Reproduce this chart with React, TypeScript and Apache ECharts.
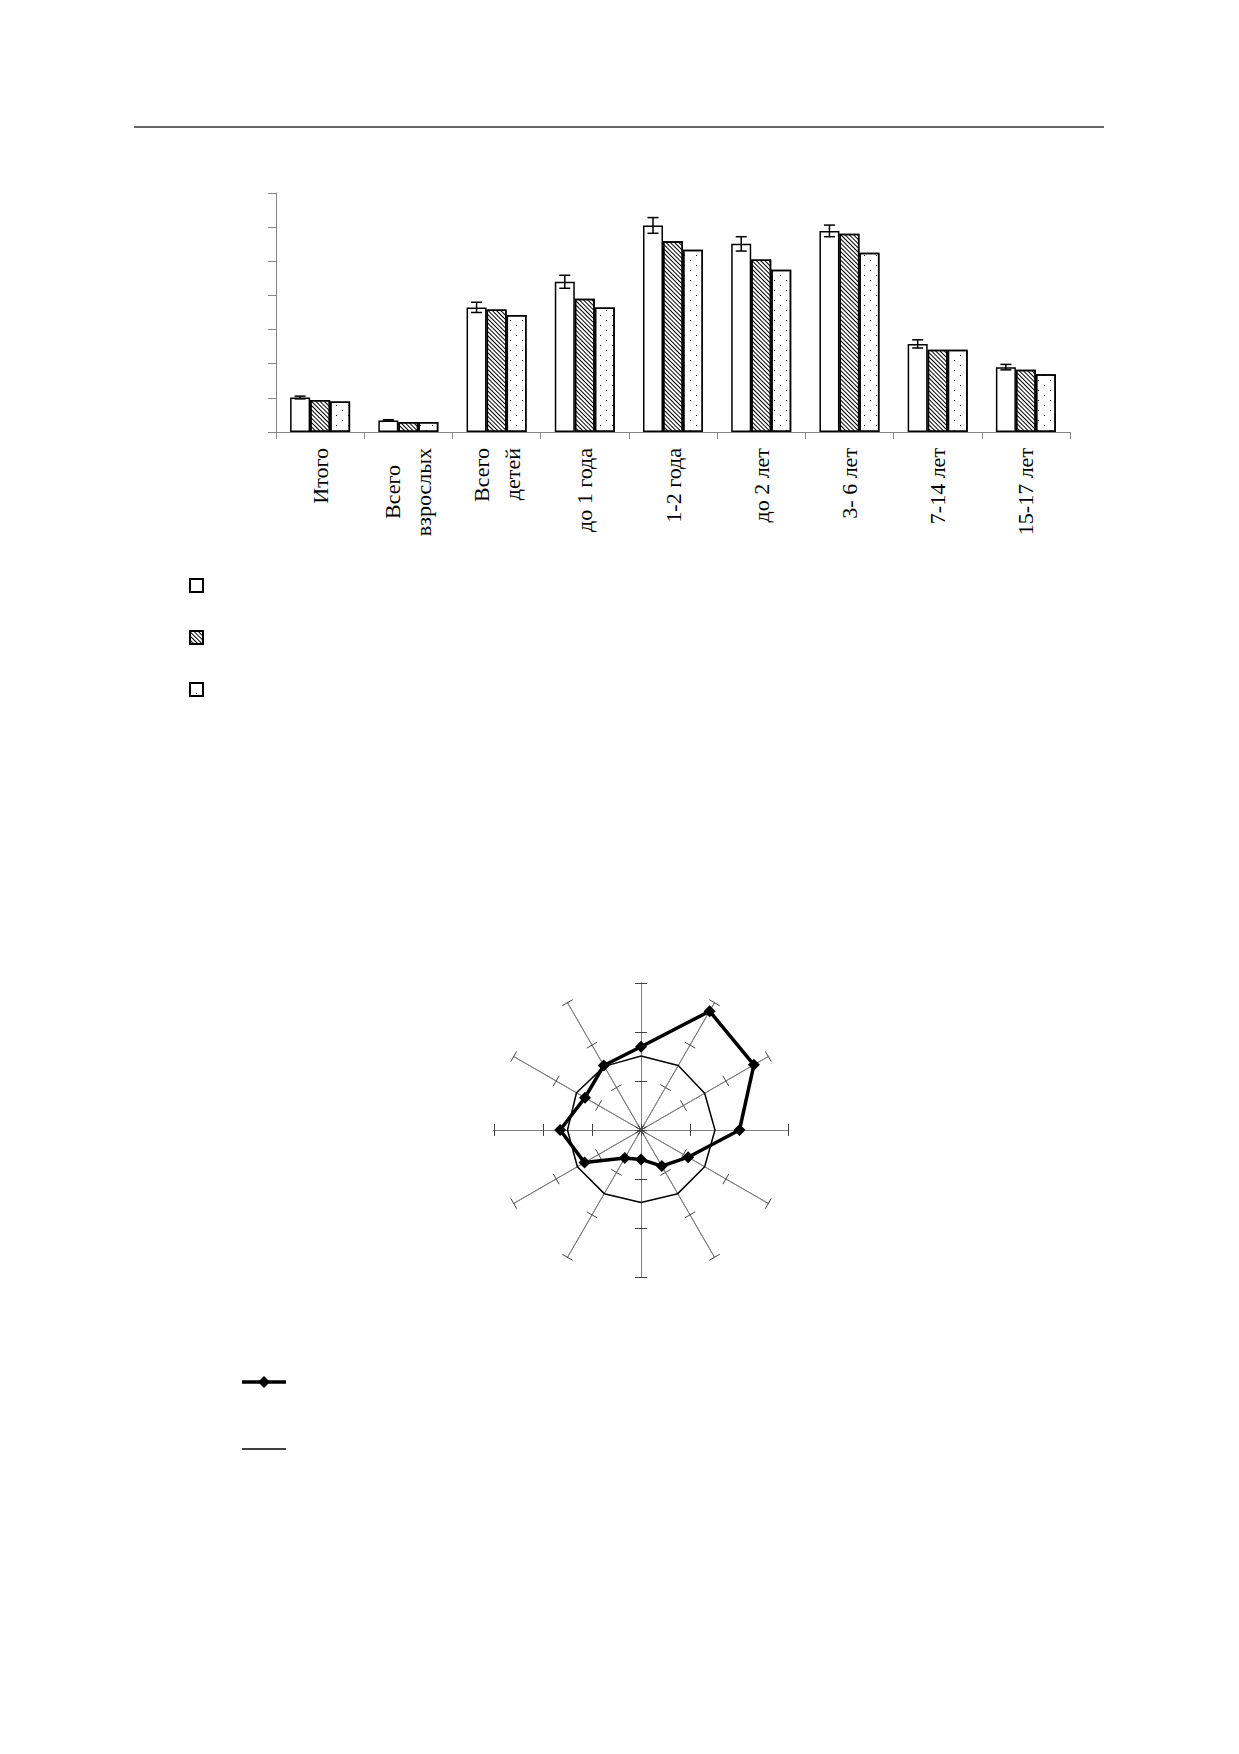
import React, { useEffect, useRef } from "react";
import * as echarts from "echarts";

// ---- Bar chart data ----
const categories = [
  "Итого",
  "Всего\nвзрослых",
  "Всего\nдетей",
  "до 1 года",
  "1-2 года",
  "до 2 лет",
  "3- 6 лет",
  "7-14 лет",
  "15-17 лет",
];
const seriesA = [1.01, 0.34, 3.65, 4.4, 6.05, 5.51, 5.89, 2.58, 1.9];
const seriesAErr = [0.04, 0.02, 0.15, 0.19, 0.23, 0.21, 0.17, 0.12, 0.08];
const seriesB = [0.94, 0.29, 3.59, 3.9, 5.59, 5.05, 5.81, 2.41, 1.82];
const seriesC = [0.89, 0.29, 3.43, 3.65, 5.34, 4.75, 5.25, 2.41, 1.69];
const barNames = ["A", "B", "C"];

// ---- Radar data (clockwise from top) ----
const radarThick = [1.7, 2.8, 2.66, 2.01, 1.11, 0.85, 0.6, 0.66, 1.33, 1.65, 1.32, 1.52];
const radarThin = [1.51, 1.52, 1.5, 1.51, 1.5, 1.5, 1.48, 1.5, 1.5, 1.5, 1.52, 1.5];
const radarMax = 3;
const radarNames = ["R1", "R2"];

const SERIF = "'Liberation Serif', 'DejaVu Serif', serif";

// ECharts radar runs counter-clockwise; convert clockwise readings.
const toCCW = (arr: number[]) => [arr[0], ...arr.slice(1).reverse()];

export default function App() {
  const ref = useRef<HTMLDivElement>(null);

  useEffect(() => {
    if (!ref.current) return;
    const chart = echarts.init(ref.current, null, { renderer: "svg" });

    const hatchDecal = {
      symbol: "rect",
      symbolSize: 1,
      dashArrayX: [1, 0],
      dashArrayY: [1, 2],
      rotation: Math.PI / 4,
      color: "#000",
    };
    const dotDecal = {
      symbol: "rect",
      symbolSize: 1,
      dashArrayX: [
        [1, 11],
        [0, 6, 1, 5],
      ],
      dashArrayY: [1, 4],
      rotation: 0,
      color: "#000",
    };
    const barStyle = { color: "#fff", borderColor: "#000", borderWidth: 1.5 };

    const indicators = radarThick.map(() => ({ name: "", min: 0, max: radarMax }));
    const radarBase = {
      center: [641, 1130],
      radius: 147,
      startAngle: 90,
      splitNumber: 3,
      shape: "polygon",
      indicator: indicators,
      axisName: { show: false },
      splitLine: { show: false },
      splitArea: { show: false },
      axisLabel: { show: false },
      axisLine: { show: true, lineStyle: { color: "#7f7f7f", width: 1 } },
    };

    const option: any = {
      animation: false,
      backgroundColor: "#fff",
      textStyle: { fontFamily: SERIF },
      grid: { left: 276, top: 193, width: 794, height: 239 },
      xAxis: {
        type: "category",
        data: categories,
        axisLine: { lineStyle: { color: "#868686", width: 1 } },
        axisTick: { show: true, length: 7, lineStyle: { color: "#868686" } },
        axisLabel: {
          interval: 0,
          rotate: 90,
          margin: 16,
          fontFamily: SERIF,
          fontSize: 22,
          lineHeight: 31,
          color: "#000",
          formatter: (v: string) => {
            const parts = v.split("\n");
            if (parts.length === 2) {
              return "{c|" + parts[0] + "}\n{n|" + parts[1] + "}";
            }
            return v;
          },
          rich: {
            c: { align: "center", fontFamily: SERIF, fontSize: 22, lineHeight: 31, color: "#000" },
            n: { fontFamily: SERIF, fontSize: 22, lineHeight: 31, color: "#000" },
          },
        },
      },
      yAxis: {
        type: "value",
        min: 0,
        max: 7,
        interval: 1,
        axisLine: { show: true, lineStyle: { color: "#868686", width: 1 } },
        axisTick: { show: true, length: 8, lineStyle: { color: "#868686" } },
        axisLabel: { show: false },
        splitLine: { show: false },
      },
      legend: [
        {
          data: barNames,
          orient: "vertical",
          left: 189,
          top: 578,
          padding: 0,
          itemWidth: 13,
          itemHeight: 13,
          itemGap: 37,
          icon: "rect",
          formatter: () => "",
          textStyle: { fontSize: 10 },
          selectedMode: false,
        },
      ],
      radar: [
        {
          ...radarBase,
          axisTick: { show: true, length: 6, lineStyle: { color: "#444", width: 1 } },
        },
        {
          ...radarBase,
          axisTick: { show: true, length: -6, lineStyle: { color: "#444", width: 1 } },
        },
      ],
      graphic: [
        {
          type: "line",
          shape: { x1: 134, y1: 127, x2: 1104, y2: 127 },
          style: { stroke: "#333", lineWidth: 1.3 },
        },
        {
          type: "line",
          shape: { x1: 242, y1: 1382, x2: 286, y2: 1382 },
          style: { stroke: "#000", lineWidth: 3.5 },
        },
        {
          type: "polygon",
          shape: { points: [[264, 1376], [270, 1382], [264, 1388], [258, 1382]] },
          style: { fill: "#000" },
        },
        {
          type: "line",
          shape: { x1: 242, y1: 1449, x2: 286, y2: 1449 },
          style: { stroke: "#000", lineWidth: 1.5 },
        },
      ],
      series: [
        {
          name: barNames[0],
          type: "bar",
          data: seriesA,
          barWidth: 20,
          barGap: "0%",
          itemStyle: { ...barStyle },
        },
        {
          name: barNames[1],
          type: "bar",
          data: seriesB,
          barWidth: 20,
          barGap: "0%",
          itemStyle: { ...barStyle, decal: hatchDecal },
        },
        {
          name: barNames[2],
          type: "bar",
          data: seriesC,
          barWidth: 20,
          barGap: "0%",
          itemStyle: { ...barStyle, decal: dotDecal },
        },
        {
          type: "custom",
          z: 5,
          data: seriesA.map((v, i) => [i, v, seriesAErr[i]]),
          encode: { x: 0, y: 1 },
          renderItem: (params: any, api: any) => {
            const i = api.value(0);
            const v = api.value(1);
            const e = api.value(2);
            const hi = api.coord([i, v + e]);
            const lo = api.coord([i, v - e]);
            const x = hi[0] - 20;
            const hw = 5.5;
            const st = { stroke: "#000", lineWidth: 1.5 };
            return {
              type: "group",
              children: [
                { type: "line", shape: { x1: x, y1: hi[1], x2: x, y2: lo[1] }, style: st },
                { type: "line", shape: { x1: x - hw, y1: hi[1], x2: x + hw, y2: hi[1] }, style: st },
                { type: "line", shape: { x1: x - hw, y1: lo[1], x2: x + hw, y2: lo[1] }, style: st },
              ],
            };
          },
        },
        {
          type: "radar",
          radarIndex: 0,
          z: 4,
          data: [
            {
              name: radarNames[1],
              value: toCCW(radarThin),
              symbol: "none",
              lineStyle: { color: "#000", width: 1.5 },
              itemStyle: { color: "#000" },
            },
            {
              name: radarNames[0],
              value: toCCW(radarThick),
              symbol: "diamond",
              symbolSize: 12,
              lineStyle: { color: "#000", width: 3.5 },
              itemStyle: { color: "#000" },
            },
          ],
        },
      ],
    };

    chart.setOption(option);
    return () => chart.dispose();
  }, []);

  return (
    <div
      ref={ref}
      style={{ position: "absolute", left: 0, top: 0, width: 1239, height: 1754, background: "#fff" }}
    />
  );
}
